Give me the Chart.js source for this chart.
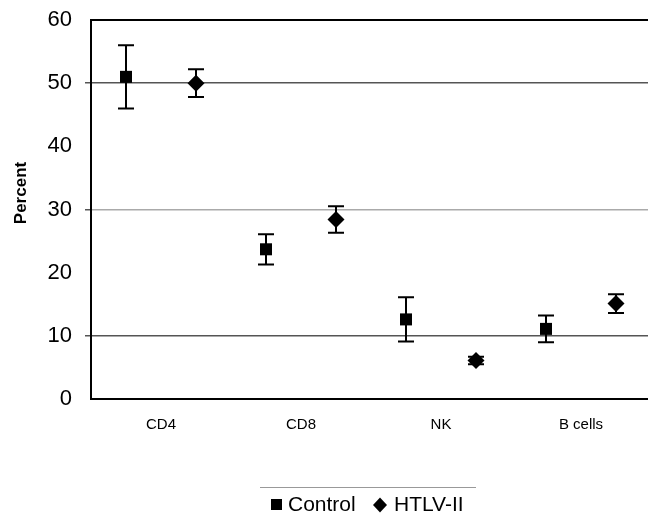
<!DOCTYPE html>
<html>
<head>
<meta charset="utf-8">
<script src="https://cdn.jsdelivr.net/npm/chart.js@4.4.1/dist/chart.umd.min.js"></script>
<style>
  html, body { margin: 0; padding: 0; background: #fff; overflow: hidden; }
  #wrap { width: 660px; height: 517px; }
</style>
</head>
<body>
<div id="wrap"><canvas id="myChart" width="660" height="517"></canvas></div>
<script>
// values
const categories = ['CD4', 'CD8', 'NK', 'B cells'];
const controlMean = [51, 23.7, 12.6, 11.1];
const controlErr = [5, 2.4, 3.5, 2.1];
const htlvMean = [50, 28.4, 6.1, 15.1];
const htlvErr = [2.2, 2.1, 0.6, 1.5];
const yTicks = [0, 10, 20, 30, 40, 50, 60];

const FONT = '"Liberation Sans", Arial, sans-serif';

const toPoints = (means, shift) => means.map((m, i) => ({x: i + 0.5 + shift, y: m}));

const errorBars = {
    id: 'errorBars',
    afterDatasetsDraw(chart) {
        const {ctx, scales: {x, y}} = chart;
        const sets = [[controlMean, controlErr, -0.25], [htlvMean, htlvErr, 0.25]];
        ctx.save();
        ctx.strokeStyle = '#000';
        ctx.lineWidth = 2;
        sets.forEach(([means, errs, shift]) => {
            means.forEach((m, i) => {
                const px = x.getPixelForValue(i + 0.5 + shift);
                const top = y.getPixelForValue(m + errs[i]);
                const bot = y.getPixelForValue(m - errs[i]);
                ctx.beginPath();
                ctx.moveTo(px, top); ctx.lineTo(px, bot);
                ctx.moveTo(px - 8, top); ctx.lineTo(px + 8, top);
                ctx.moveTo(px - 8, bot); ctx.lineTo(px + 8, bot);
                ctx.stroke();
            });
        });
        ctx.restore();
    }
};

// y title, legend under the plot and the rule above it
const extras = {
    id: 'extras',
    afterDraw(chart) {
        const ctx = chart.ctx;
        ctx.save();
        ctx.fillStyle = '#000';
        ctx.font = 'bold 17px ' + FONT;
        ctx.textAlign = 'center';
        ctx.textBaseline = 'middle';
        ctx.translate(21, 193);
        ctx.rotate(-Math.PI / 2);
        ctx.fillText('Percent', 0, 0);
        ctx.restore();

        ctx.save();
        ctx.strokeStyle = '#999';
        ctx.lineWidth = 1;
        ctx.beginPath();
        ctx.moveTo(260, 487.5); ctx.lineTo(476, 487.5);
        ctx.stroke();
        ctx.fillStyle = '#000';
        ctx.fillRect(271, 499, 11, 11);
        ctx.beginPath();
        ctx.moveTo(380, 497.5); ctx.lineTo(387, 505); ctx.lineTo(380, 512.5); ctx.lineTo(373, 505);
        ctx.closePath(); ctx.fill();
        ctx.font = '21px ' + FONT;
        ctx.textBaseline = 'middle';
        ctx.fillText('Control', 288, 505);
        ctx.fillText('HTLV-II', 394, 505);
        ctx.restore();
    }
};

new Chart(document.getElementById('myChart'), {
    type: 'scatter',
    data: {
        datasets: [
            {
                label: 'Control',
                data: toPoints(controlMean, -0.25),
                pointStyle: 'rect',
                pointRadius: 8.5,
                backgroundColor: '#000',
                borderColor: '#000',
                borderWidth: 0
            },
            {
                label: 'HTLV-II',
                data: toPoints(htlvMean, 0.25),
                pointStyle: 'rectRot',
                pointRadius: 8.5,
                backgroundColor: '#000',
                borderColor: '#000',
                borderWidth: 0
            }
        ]
    },
    options: {
        responsive: false,
        animation: false,
        layout: {padding: {top: 20, left: 0, right: 9, bottom: 0}},
        plugins: {legend: {display: false}, tooltip: {enabled: false}},
        scales: {
            x: {
                type: 'linear',
                min: 0,
                max: 4,
                afterBuildTicks: s => { s.ticks = categories.map((c, i) => ({value: i + 0.5})); },
                afterFit: s => { s.height = 118; s.paddingLeft = 0; s.paddingRight = 0; },
                grid: {display: false, drawTicks: false},
                border: {color: '#000', width: 2},
                ticks: {
                    callback: v => categories[Math.floor(v)],
                    color: '#000',
                    font: {family: FONT, size: 15},
                    padding: 17,
                    maxRotation: 0
                }
            },
            y: {
                min: 0,
                max: 60,
                afterBuildTicks: s => { s.ticks = yTicks.map(v => ({value: v})); },
                afterFit: s => { s.width = 91; s.paddingTop = 0; s.paddingBottom = 0; },
                grid: {
                    color: c => c.tick.value === 60 ? '#000' : (c.tick.value === 30 ? '#aaa' : ([10, 50].includes(c.tick.value) ? '#555' : 'rgba(0,0,0,0)')),
                    lineWidth: c => c.tick.value === 60 ? 2 : 1.5,
                    tickColor: c => [10, 30, 50].includes(c.tick.value) ? '#555' : 'rgba(0,0,0,0)',
                    tickLength: 6
                },
                border: {color: '#000', width: 2},
                ticks: {
                    color: '#000',
                    font: {family: FONT, size: 22},
                    padding: 13
                }
            }
        }
    },
    plugins: [errorBars, extras]
});
</script>
</body>
</html>
